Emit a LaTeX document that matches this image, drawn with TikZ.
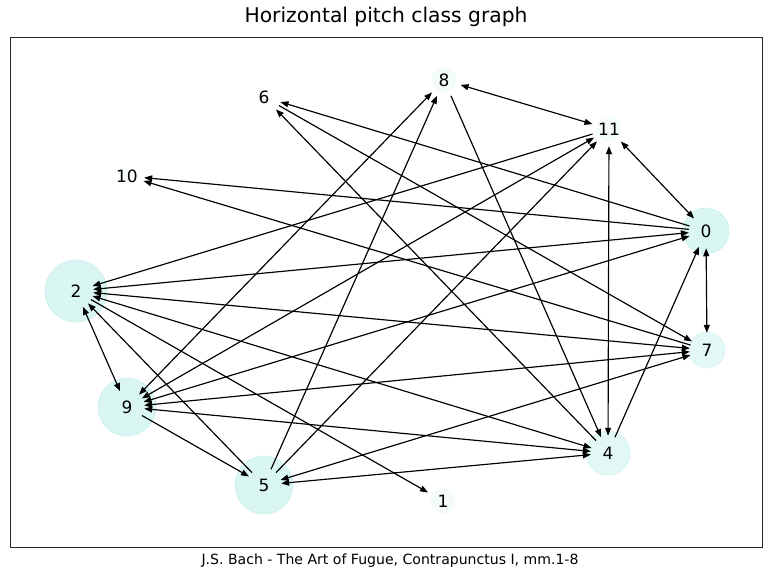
\documentclass[tikz,border=0pt]{standalone}
\usepackage{fontspec}
\setmainfont{DejaVu Sans}
\usetikzlibrary{arrows.meta,backgrounds}
\definecolor{halo}{RGB}{217,246,243}
\definecolor{haloedge}{RGB}{205,241,237}

\begin{document}
\begin{tikzpicture}[
                    x=0.03cm, y=-0.03cm,
                    every node/.style={inner sep=0pt},
                    pc/.style={
                        circle,
                        minimum size=1.02cm,
                        font=\fontsize{14.5}{17}\selectfont
                    },
                    link/.style={-{Triangle[length=2.4mm, width=1.8mm]}, line width=1pt},
                    twoway/.style={{Triangle[length=2.4mm, width=1.8mm]}-{Triangle[length=2.4mm, width=1.8mm]}, line width=1pt}
                ]
                    \useasboundingbox (0,0) rectangle (763,575);
                    \draw[line width=0.8pt, black!85] (10,37) rectangle (762.6,547);
                    \node[font=\fontsize{17.3}{20}\selectfont] (title) at (386,17) {Horizontal pitch class graph};
                    \node[font=\fontsize{12}{14}\selectfont] (caption) at (390,561) {J.S. Bach - The Art of Fugue, Contrapunctus I, mm.1-8};

                    \node[pc] (pc8) at (444,80) {8};
                    \node[pc] (pc6) at (264,97) {6};
                    \node[pc] (pc11) at (609,129) {11};
                    \node[pc] (pc10) at (127,176) {10};
                    \node[pc] (pc0) at (706,231) {0};
                    \node[pc] (pc2) at (76,291) {2};
                    \node[pc] (pc7) at (707,350) {7};
                    \node[pc] (pc9) at (127,407) {9};
                    \node[pc] (pc4) at (608,453) {4};
                    \node[pc] (pc5) at (264,485) {5};
                    \node[pc] (pc1) at (443,501) {1};

                    % Halos
                    \begin{pgfonlayer}{background}
                    \foreach \n/\r/\s in {0/23/100, 2/31/100, 7/18/70, 9/29/100, 4/22/80, 5/29/100, 8/12/30, 11/12/30, 1/12/30, 6/7/15, 10/7/15}
                        \filldraw[fill=halo!\s, draw=haloedge!\s, line width=0.6pt] (pc\n) circle (\r*0.03cm);
                    \end{pgfonlayer}

                    % Edges
                    \draw[twoway] (pc8) -- (pc11);
                    \draw[twoway] (pc8) -- (pc9);
                    \draw[twoway] (pc11) -- (pc0);
                    \draw[twoway] (pc11) -- (pc4);
                    \draw[twoway] (pc0) -- (pc7);
                    \draw[twoway] (pc2) -- (pc9);
                    \draw[twoway] (pc2) -- (pc0);
                    \draw[twoway] (pc9) -- (pc0);
                    \draw[twoway] (pc9) -- (pc11);
                    \draw[twoway] (pc2) -- (pc7);
                    \draw[twoway] (pc9) -- (pc7);
                    \draw[twoway] (pc9) -- (pc4);
                    \draw[twoway] (pc2) -- (pc4);
                    \draw[twoway] (pc5) -- (pc7);
                    \draw[twoway] (pc5) -- (pc4);
                    \draw[link] (pc5) -- (pc8);
                    \draw[link] (pc8) -- (pc4);
                    \draw[link] (pc0) -- (pc6);
                    \draw[link] (pc4) -- (pc6);
                    \draw[link] (pc6) -- (pc7);
                    \draw[link] (pc0) -- (pc10);
                    \draw[link] (pc7) -- (pc10);
                    \draw[link] (pc11) -- (pc2);
                    \draw[link] (pc5) -- (pc11);
                    \draw[link] (pc4) -- (pc0);
                    \draw[link] (pc9) -- (pc5);
                    \draw[link] (pc5) -- (pc2);
                    \draw[link] (pc2) -- (pc1);
                \end{tikzpicture}
\end{document}
